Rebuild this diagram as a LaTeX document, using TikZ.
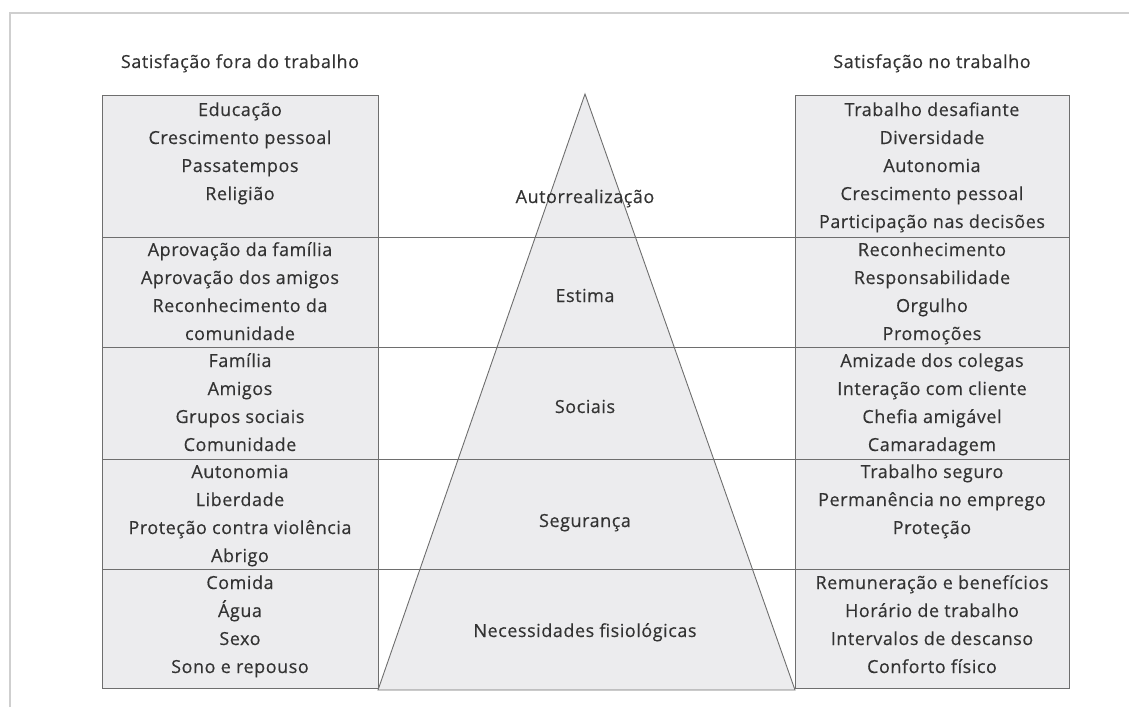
\documentclass[tikz,border=0pt]{standalone}
\usepackage{fontspec}
\setmainfont{Open Sans}[LetterSpace=3, FakeBold=0.35]
\definecolor{framegray}{HTML}{CFCFCF}
\definecolor{linegray}{HTML}{6E6E6E}
\definecolor{panelfill}{HTML}{ECECEE}
\definecolor{textgray}{HTML}{333333}
\begin{document}
\begin{tikzpicture}[x=1pt,y=-1pt,
  outerframe/.style={draw=framegray, line width=1.2pt},
  panel/.style={draw=linegray, fill=panelfill, line width=0.9pt},
  divider/.style={draw=linegray, line width=0.9pt},
  itemlist/.style={align=center, inner sep=0pt, anchor=base, text=textgray, font=\fontsize{18}{28}\selectfont},
  level/.style={inner sep=0pt, anchor=base, text=textgray, font=\fontsize{18}{20}\selectfont},
  header/.style={inner sep=0pt, anchor=base, text=textgray, font=\fontsize{18}{20}\selectfont}]
\useasboundingbox (0,0) rectangle (1129,707);
% outer frame (partial)
\coordinate (fTL) at (10,13);
\coordinate (fTR) at (1129,13);
\coordinate (fBL) at (10,707);
\draw[outerframe] (fBL) -- (fTL) -- (fTR);
% side panels
\coordinate (lTL) at (102,95);
\coordinate (lBR) at (378,688);
\coordinate (rTL) at (795,95);
\coordinate (rBR) at (1069,688);
\draw[panel] (lTL) rectangle (lBR);
\draw[panel] (rTL) rectangle (rBR);
% pyramid
\coordinate (apex) at (585,94);
\coordinate (baseL) at (378,690);
\coordinate (baseR) at (795,690);
\draw[panel, line join=miter] (apex) -- (baseR) -- (baseL) -- cycle;
% dividers
\foreach \yy [count=\i] in {237,347,459,569}{
  \coordinate (dL\i) at (102,\yy);
  \coordinate (dR\i) at (1069,\yy);
  \draw[divider] (dL\i) -- (dR\i);
}
% headers
\node[header] (hL) at (240,68) {Satisfação fora do trabalho};
\node[header] (hR) at (932,68) {Satisfação no trabalho};
% left lists (anchored at the baseline of their last line)
\node[itemlist] (l1) at (240,200) {Educação\\Crescimento pessoal\\Passatempos\\Religião};
\node[itemlist] (l2) at (240,340) {Aprovação da família\\Aprovação dos amigos\\Reconhecimento da\\comunidade};
\node[itemlist] (l3) at (240,451) {Família\\Amigos\\Grupos sociais\\Comunidade};
\node[itemlist] (l4) at (240,562) {Autonomia\\Liberdade\\Proteção contra violência\\Abrigo};
\node[itemlist] (l5) at (240,673) {Comida\\Água\\Sexo\\Sono e repouso};
% right lists
\node[itemlist] (r1) at (932,228) {Trabalho desafiante\\Diversidade\\Autonomia\\Crescimento pessoal\\Participação nas decisões};
\node[itemlist] (r2) at (932,340) {Reconhecimento\\Responsabilidade\\Orgulho\\Promoções};
\node[itemlist] (r3) at (932,451) {Amizade dos colegas\\Interação com cliente\\Chefia amigável\\Camaradagem};
\node[itemlist] (r4) at (932,534) {Trabalho seguro\\Permanência no emprego\\Proteção};
\node[itemlist] (r5) at (932,673) {Remuneração e benefícios\\Horário de trabalho\\Intervalos de descanso\\Conforto físico};
% pyramid levels
\node[level] (p1) at (585,203) {Autorrealização};
\node[level] (p2) at (585,302) {Estima};
\node[level] (p3) at (585,413) {Sociais};
\node[level] (p4) at (585,527) {Segurança};
\node[level] (p5) at (585,637) {Necessidades fisiológicas};
\end{tikzpicture}
\end{document}
